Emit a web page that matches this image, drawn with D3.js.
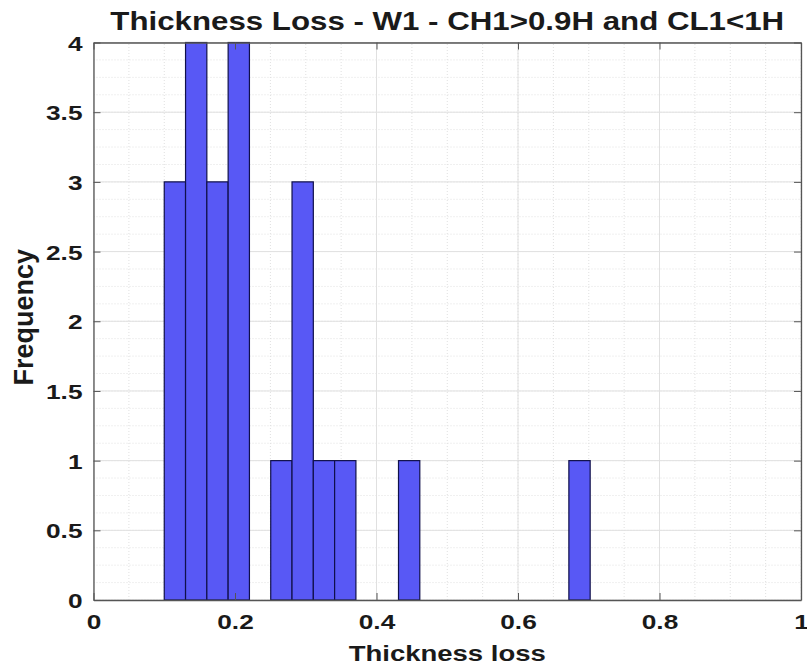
<!DOCTYPE html>
<html><head><meta charset="utf-8">
<script src="https://cdn.jsdelivr.net/npm/d3@7"></script>
<style>
html,body{margin:0;padding:0;background:#fff;}
svg text{font-family:"Liberation Sans",Arial,Helvetica,sans-serif;font-weight:bold;fill:#1a1a1a;}
</style></head>
<body>
<svg id="chart" width="807" height="668"></svg>
<script>
const title = "Thickness Loss - W1 - CH1>0.9H and CL1<1H";
const xLabel = "Thickness loss";
const yLabel = "Frequency";
const binStart = 0.1;
const binEnd = 0.702;
const counts = [3,4,3,4,0,1,3,1,1,0,0,1,0,0,0,0,0,0,0,1];
const xTicks = [0,0.2,0.4,0.6,0.8,1];
const yTicks = [0,0.5,1,1.5,2,2.5,3,3.5,4];

(function(){
const svg = d3.select("#chart");
const x = d3.scaleLinear().domain([0,1]).range([93.5, 801]);
const y = d3.scaleLinear().domain([0,4]).range([600, 42.5]);
const SX = 1.25;
function stretch(sel, f){
  sel.each(function(){
    const L = this.getComputedTextLength();
    d3.select(this).attr("textLength", L*f).attr("lengthAdjust","spacingAndGlyphs");
  });
}

const bw = (binEnd - binStart)/counts.length;
const bins = counts.map((c,i)=>({x0:binStart+i*bw, x1:binStart+(i+1)*bw, c}));

const g = svg.append("g");
const xMinor = d3.range(0,1.0001,0.05);
const yMinor = d3.range(0,4.0001,0.125);
g.selectAll(".xm").data(xMinor).enter().append("line")
  .attr("x1",d=>x(d)).attr("x2",d=>x(d)).attr("y1",y(0)).attr("y2",y(4))
  .attr("stroke","#e0e0e0").attr("stroke-width",1).attr("stroke-dasharray","1,2");
g.selectAll(".ym").data(yMinor).enter().append("line")
  .attr("x1",x(0)).attr("x2",x(1)).attr("y1",d=>y(d)).attr("y2",d=>y(d))
  .attr("stroke","#e0e0e0").attr("stroke-width",1).attr("stroke-dasharray","1,2");
g.selectAll(".xg").data(xTicks).enter().append("line")
  .attr("x1",d=>x(d)).attr("x2",d=>x(d)).attr("y1",y(0)).attr("y2",y(4))
  .attr("stroke","#e0e0e0").attr("stroke-width",1);
g.selectAll(".yg").data(yTicks).enter().append("line")
  .attr("x1",x(0)).attr("x2",x(1)).attr("y1",d=>y(d)).attr("y2",d=>y(d))
  .attr("stroke","#e0e0e0").attr("stroke-width",1);

svg.append("g").selectAll("rect").data(bins.filter(b=>b.c>0)).enter().append("rect")
  .attr("x",d=>x(d.x0)).attr("width",d=>x(d.x1)-x(d.x0))
  .attr("y",d=>y(d.c)).attr("height",d=>y(0)-y(d.c))
  .attr("fill","#5858f5").attr("stroke","#10104a").attr("stroke-width",1.2);

const axStyle = a => a.call(s=>s.select(".domain").attr("stroke","#555").attr("stroke-width",1.3))
  .call(s=>s.selectAll(".tick line").attr("stroke","#555"));
const axB = svg.append("g").attr("transform",`translate(0,${y(0)})`)
  .call(d3.axisBottom(x).tickValues(xTicks).tickFormat(d3.format("~g")).tickSizeInner(-7).tickSizeOuter(0));
axB.selectAll("text").attr("font-size",21).attr("fill","#1a1a1a").attr("y",29).attr("dy",0);
stretch(axB.selectAll("text"), SX);
axStyle(axB);
const axL = svg.append("g").attr("transform",`translate(${x(0)},0)`)
  .call(d3.axisLeft(y).tickValues(yTicks).tickFormat(d3.format("~g")).tickSizeInner(-7).tickSizeOuter(0));
axL.selectAll("text").attr("font-size",21).attr("fill","#1a1a1a").attr("x",-11).attr("dy","0.36em");
stretch(axL.selectAll("text"), SX);
axStyle(axL);
const axT = svg.append("g").attr("transform",`translate(0,${y(4)})`)
  .call(d3.axisTop(x).tickValues(xTicks).tickFormat("").tickSizeInner(-7).tickSizeOuter(0));
axStyle(axT);
const axR = svg.append("g").attr("transform",`translate(${x(1)},0)`)
  .call(d3.axisRight(y).tickValues(yTicks).tickFormat("").tickSizeInner(-7).tickSizeOuter(0));
axStyle(axR);

const t = svg.append("text").attr("x",(x(0)+x(1))/2).attr("y",30).attr("text-anchor","middle")
  .attr("font-size",25).text(title);
stretch(t, SX);
const xl = svg.append("text").attr("x",(x(0)+x(1))/2).attr("y",661).attr("text-anchor","middle")
  .attr("font-size",22).text(xLabel);
stretch(xl, SX);
svg.append("text").attr("transform",`translate(33,${(y(0)+y(4))/2 - 4}) rotate(-90)`).attr("text-anchor","middle")
  .attr("font-size",27).text(yLabel);
})();
</script>
</body></html>
